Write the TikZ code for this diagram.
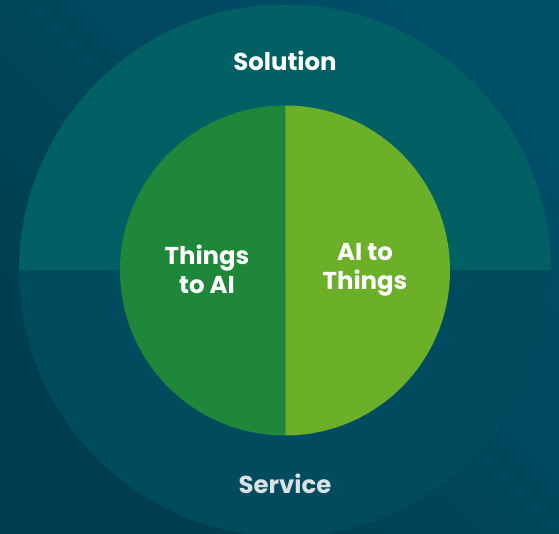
\documentclass[tikz,border=0pt]{standalone}
\usepackage{fontspec}
\setmainfont{Poppins}
\definecolor{bgA}{HTML}{003D4E}
\definecolor{bgB}{HTML}{004F68}
\definecolor{topteal}{HTML}{006064}
\definecolor{botteal}{HTML}{004C5E}
\definecolor{dgreen}{HTML}{1F873A}
\definecolor{lgreen}{HTML}{6CB02A}
\definecolor{svc}{HTML}{D9E1E5}
\tikzset{
  lbl/.style={font=\fontsize{24.5}{29}\selectfont\bfseries, text=white, align=center, inner sep=0pt},
}
\begin{document}
\begin{tikzpicture}[x=1bp,y=-1bp]
\useasboundingbox (0,0) rectangle (559,534);
\shade[left color=bgA, right color=bgB, shading angle=135] (0,0) rectangle (559,534);
\coordinate (c) at (285,270.5);
\begin{scope}
\clip (0,0) rectangle (559,270.5);
\fill[topteal] (c) circle[radius=266];
\end{scope}
\begin{scope}
\clip (0,270.5) rectangle (559,534);
\fill[botteal] (c) circle[radius=266];
\end{scope}
\begin{scope}
\clip (0,0) rectangle (285.3,534);
\fill[dgreen] (c) circle[radius=165];
\end{scope}
\begin{scope}
\clip (285.3,0) rectangle (559,534);
\fill[lgreen] (c) circle[radius=165];
\end{scope}
\node[lbl] (sol) at (285,60.5) {Solution};
\node[lbl, text=svc] (ser) at (285,483.5) {Service};
\node[lbl] (t2a) at (207,269.5) {Things\\to AI};
\node[lbl] (a2t) at (365,269.5) {AI to\\Things};
\end{tikzpicture}
\end{document}
